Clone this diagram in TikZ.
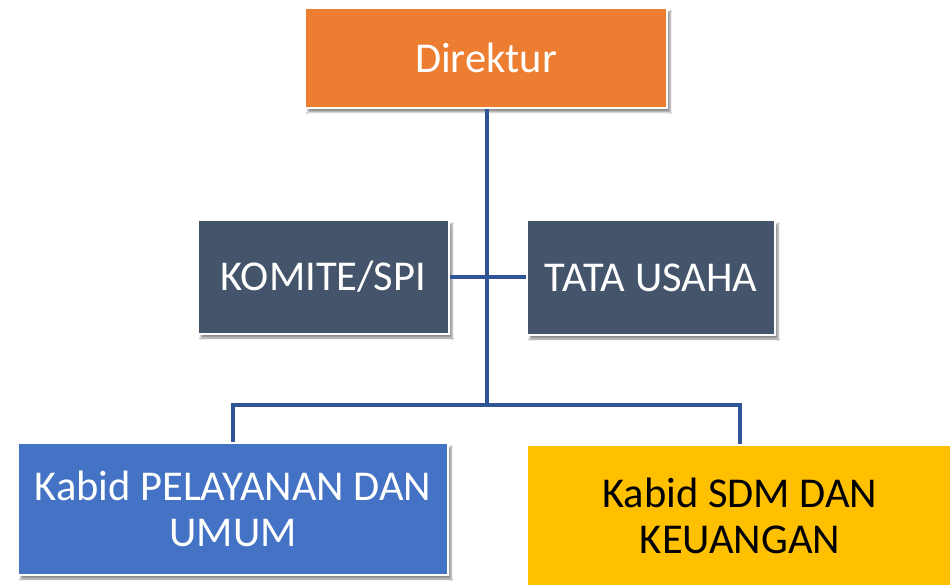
\documentclass[tikz,border=0pt]{standalone}
\usepackage{fontspec}
\setmainfont{Carlito}
\usetikzlibrary{shadows.blur}
\definecolor{orgorange}{HTML}{ED7D31}
\definecolor{orgslate}{HTML}{44546A}
\definecolor{orgblue}{HTML}{4472C4}
\definecolor{orggold}{HTML}{FFC000}
\definecolor{orgline}{HTML}{2F5597}
\tikzset{
  unitbox/.style={draw=white, line width=1.2pt, inner sep=0pt, align=center,
    font=\fontsize{42.5}{46}\selectfont,
    blur shadow={shadow xshift=3pt, shadow yshift=-4pt, shadow blur steps=6, shadow opacity=45}},
  link/.style={draw=orgline, line width=3.2pt}
}
\begin{document}
\begin{tikzpicture}[x=1pt,y=-1pt]
  \useasboundingbox[fill=white] (0,0) rectangle (950,585);
  % top level
  \node[unitbox, fill=orgorange, text=white, minimum width=362pt, minimum height=100pt]
    (dir) at (486,58) {Direktur};
  % staff units beside the main line
  \node[unitbox, fill=orgslate, text=white, minimum width=251pt, minimum height=114pt]
    (spi) at (323.5,277) {KOMITE/SPI};
  \node[unitbox, fill=orgslate, text=white, minimum width=248pt, minimum height=115pt]
    (tu) at (651,277.5) {TATA USAHA};
  % division heads
  \node[unitbox, fill=orgblue, text=white, minimum width=430pt, minimum height=132pt]
    (pel) at (233,509) {Kabid PELAYANAN DAN\\UMUM};
  \node[unitbox, fill=orggold, text=black, minimum width=426pt, minimum height=141pt]
    (sdm) at (740,515.5) {Kabid SDM DAN\\KEUANGAN};
  % connectors
  \coordinate (bus) at (487,405);
  \draw[link] (dir.south -| bus) -- (bus);
  \draw[link] (spi.east) -- (spi.east -| tu.west);
  \draw[link] (pel.north) -- (pel.north |- bus) -- (sdm.north |- bus) -- (sdm.north);
\end{tikzpicture}
\end{document}
